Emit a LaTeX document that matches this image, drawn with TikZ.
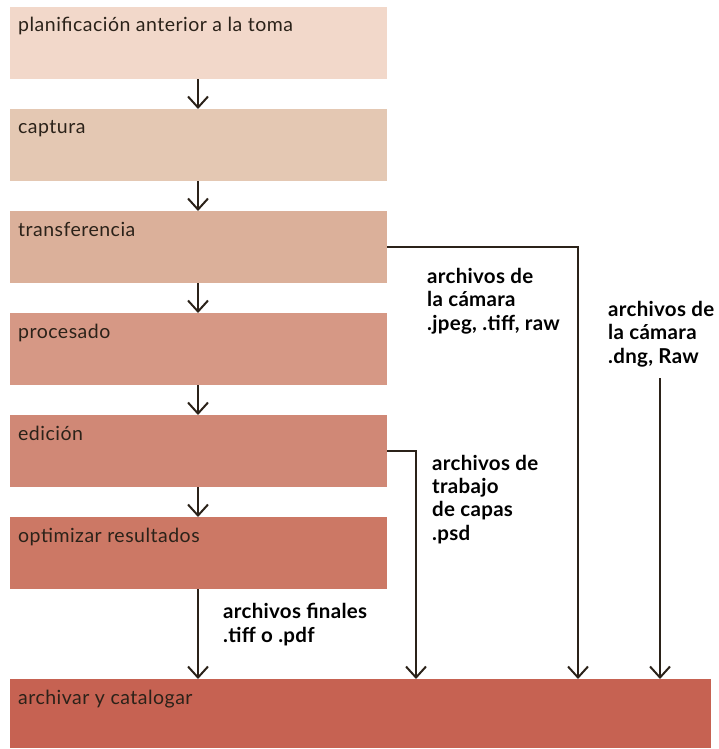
\documentclass[tikz,border=0pt]{standalone}
\usepackage{fontspec}
\setmainfont{Lato}
\newfontfamily\stagefont[LetterSpace=2.5]{Lato}
\newfontfamily\tagfont[LetterSpace=1.5]{Lato}
\usetikzlibrary{arrows.meta,positioning}
\definecolor{stageA}{HTML}{F2D8CA}
\definecolor{stageB}{HTML}{E4C8B3}
\definecolor{stageC}{HTML}{DBB09A}
\definecolor{stageD}{HTML}{D69885}
\definecolor{stageE}{HTML}{D08876}
\definecolor{stageF}{HTML}{CC7865}
\definecolor{stageG}{HTML}{C66252}
\definecolor{ink}{HTML}{2B2219}
\tikzset{
  stage/.style={fill=#1,draw=none,inner sep=0pt,minimum width=377pt,minimum height=72pt,anchor=north west},
  stagetxt/.style={anchor=base west,inner sep=0pt,xshift=8pt,yshift=-25pt,text=ink,font=\stagefont\fontsize{19.5}{20}\selectfont},
  ftag/.style={anchor=base west,inner sep=0pt,align=left,font=\tagfont\bfseries\fontsize{20.5}{23.3}\selectfont},
  farr/.style={-{Straight Barb[length=11pt,width=20pt,line width=2pt]},line width=2pt,draw=ink}
}
\begin{document}
\begin{tikzpicture}[x=1pt,y=-1pt]
  \useasboundingbox (0,0) rectangle (719,749);
  % stages of the workflow
  \node[stage=stageA,label={[stagetxt]north west:planificación anterior a la toma}] (plan) at (10,7) {};
  \node[stage=stageB,label={[stagetxt]north west:captura}] (capt) at (10,109) {};
  \node[stage=stageC,label={[stagetxt]north west:transferencia}] (trans) at (10,211) {};
  \node[stage=stageD,label={[stagetxt]north west:procesado}] (proc) at (10,313) {};
  \node[stage=stageE,label={[stagetxt]north west:edición}] (edic) at (10,415) {};
  \node[stage=stageF,label={[stagetxt]north west:optimizar resultados}] (optim) at (10,517) {};
  \node[stage=stageG,minimum width=701pt,minimum height=69pt,label={[stagetxt]north west:archivar y catalogar}] (arch) at (10,679) {};
  % file tags (anchored at the last line)
  \node[ftag] (tcam) at (427,330) {archivos de\\la cámara\\.jpeg, .tiff, raw};
  \node[ftag] (tdng) at (608,363) {archivos de\\la cámara\\.dng, Raw};
  \node[ftag] (tpsd) at (432,540) {archivos de\\trabajo\\de capas\\.psd};
  \node[ftag] (tfin) at (223,642) {archivos finales\\.tiff o .pdf};
  % connectors
  \draw[farr] (plan.south -| 198,0) -- (capt.north -| 198,0);
  \draw[farr] (capt.south -| 198,0) -- (trans.north -| 198,0);
  \draw[farr] (trans.south -| 198,0) -- (proc.north -| 198,0);
  \draw[farr] (proc.south -| 198,0) -- (edic.north -| 198,0);
  \draw[farr] (edic.south -| 198,0) -- (optim.north -| 198,0);
  \draw[farr] (optim.south -| 198,0) -- (arch.north -| 198,0);
  \draw[farr] (trans.east) -| (arch.north -| 578,0);
  \draw[farr] (edic.east) -| (arch.north -| 416,0);
  \coordinate (dngin) at (660,378);
  \draw[farr] (dngin) -- (arch.north -| dngin);
\end{tikzpicture}
\end{document}
